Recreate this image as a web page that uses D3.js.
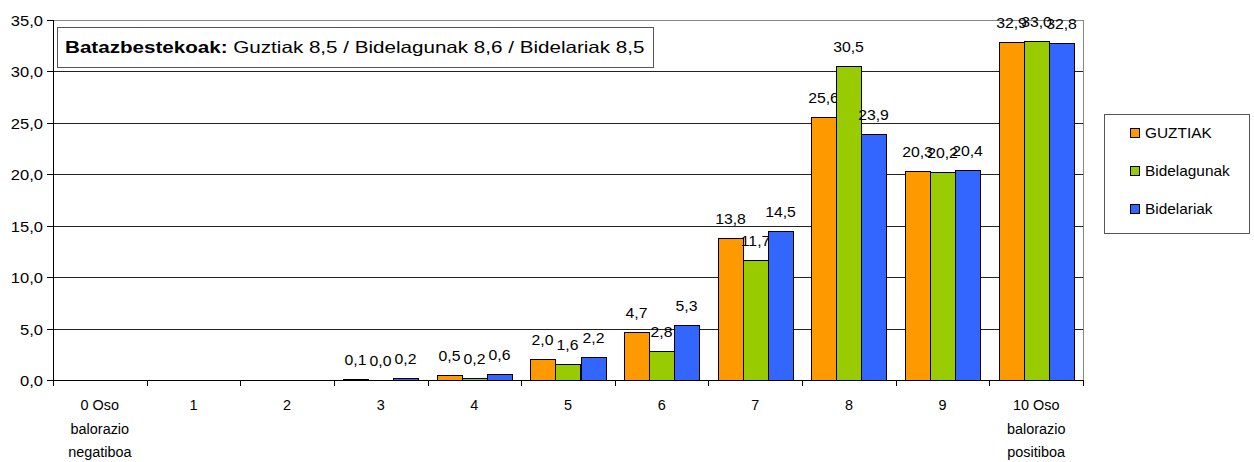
<!DOCTYPE html>
<head>
    <style>
        body { margin: 0; background: #fff; }
        svg { display: block; }
        text { font-family: "Liberation Sans", Arial, sans-serif; font-size: 14px; fill: #000; }
    </style>
</head>
<body>
    <script src="https://d3js.org/d3.v7.min.js"></script>
    <script>
        // categories (each label split in lines)
        var categories = [
            ['0 Oso', 'balorazio', 'negatiboa'], ['1'], ['2'], ['3'], ['4'], ['5'],
            ['6'], ['7'], ['8'], ['9'], ['10 Oso', 'balorazio', 'positiboa']
        ];
        var seriesNames = ['GUZTIAK', 'Bidelagunak', 'Bidelariak'];
        var seriesColors = ['#ff9900', '#99cc00', '#3366ff'];
        var guztiak     = [null, null, null, 0.1, 0.5, 2.0, 4.7, 13.8, 25.6, 20.3, 32.9];
        var bidelagunak = [null, null, null, 0.0, 0.2, 1.6, 2.8, 11.7, 30.5, 20.2, 33.0];
        var bidelariak  = [null, null, null, 0.2, 0.6, 2.2, 5.3, 14.5, 23.9, 20.4, 32.8];
        var yTicks = [0, 5, 10, 15, 20, 25, 30, 35];
        var titleBold = 'Batazbestekoak:';
        var titleRest = ' Guztiak 8,5 / Bidelagunak 8,6 / Bidelariak 8,5';

        var series = [guztiak, bidelagunak, bidelariak];
        var fmt = d => d.toFixed(1).replace('.', ',');

        var svg = d3.select('body').append('svg')
                    .attr('width', 1254).attr('height', 462);

        var pLeft = 53, pRight = 1083, pTop = 20, pBottom = 380;
        var x = d3.scaleBand().domain(d3.range(categories.length)).range([pLeft, pRight]);
        var xs = d3.scaleBand().domain(d3.range(series.length))
                   .range([0, x.bandwidth()]).paddingOuter(0.37);
        var y = d3.scaleLinear().domain([0, 35]).range([pBottom, pTop]);

        // text is drawn a bit stretched horizontally, like the original
        function txt(g, px, py, s, sx) {
            return g.append('text')
                    .attr('transform', 'translate(' + px + ',' + py + ') scale(' + sx + ',1)')
                    .text(s);
        }

        // gridlines
        svg.selectAll('line.grid').data(yTicks.filter(d => d > 0 && d < 35)).enter()
           .append('line')
           .attr('x1', pLeft).attr('x2', pRight)
           .attr('y1', d => Math.round(y(d)) + 0.5).attr('y2', d => Math.round(y(d)) + 0.5)
           .attr('stroke', '#222');

        // plot border
        svg.append('rect')
           .attr('x', pLeft + 0.5).attr('y', pTop + 0.5)
           .attr('width', pRight - pLeft).attr('height', pBottom - pTop)
           .attr('fill', 'none').attr('stroke', '#888');

        // bars + labels
        series.forEach(function(vals, si) {
            var g = svg.append('g');
            vals.forEach(function(v, ci) {
                if (v === null) return;
                var bx = Math.round(x(ci) + xs(si));
                if (v > 0) {
                    g.append('rect')
                     .attr('x', bx + 0.5).attr('y', Math.round(y(v)) + 0.5)
                     .attr('width', Math.round(xs.bandwidth()))
                     .attr('height', Math.round(y(0)) - Math.round(y(v)))
                     .attr('fill', seriesColors[si]).attr('stroke', '#000');
                }
                txt(g, bx + xs.bandwidth() / 2, y(v) - 14, fmt(v), 1.13)
                   .attr('text-anchor', 'middle');
            });
        });

        // axes
        svg.append('line').attr('x1', pLeft + 0.5).attr('x2', pLeft + 0.5)
           .attr('y1', pTop).attr('y2', pBottom + 1).attr('stroke', '#000');
        svg.append('line').attr('x1', pLeft).attr('x2', pRight + 1)
           .attr('y1', pBottom + 0.5).attr('y2', pBottom + 0.5).attr('stroke', '#000');

        yTicks.forEach(function(t) {
            var ty = Math.round(y(t)) + 0.5;
            svg.append('line').attr('x1', pLeft - 6).attr('x2', pLeft)
               .attr('y1', ty).attr('y2', ty).attr('stroke', '#000');
            txt(svg, pLeft - 10, ty + 5, fmt(t), 1.18).attr('text-anchor', 'end');
        });

        d3.range(categories.length + 1).forEach(function(i) {
            var px = Math.round(pLeft + i * x.step()) + 0.5;
            svg.append('line').attr('x1', px).attr('x2', px)
               .attr('y1', pBottom).attr('y2', pBottom + 6).attr('stroke', '#000');
        });
        categories.forEach(function(lines, ci) {
            lines.forEach(function(l, li) {
                txt(svg, x(ci) + x.bandwidth() / 2, 410 + li * 23.5, l, 1.03)
                   .attr('text-anchor', 'middle');
            });
        });

        // title box
        svg.append('rect').attr('x', 57.5).attr('y', 27.5)
           .attr('width', 596).attr('height', 40)
           .attr('fill', '#fff').attr('stroke', '#555');
        var tt = txt(svg, 65, 53, '', 1.25).style('font-size', '16.5px');
        tt.append('tspan').attr('font-weight', 'bold').text(titleBold);
        tt.append('tspan').text(titleRest);

        // legend
        svg.append('rect').attr('x', 1104.5).attr('y', 114.5)
           .attr('width', 145).attr('height', 119)
           .attr('fill', '#fff').attr('stroke', '#555');
        seriesNames.forEach(function(n, i) {
            var cy = 133 + i * 38;
            svg.append('rect').attr('x', 1130.5).attr('y', cy - 4.5)
               .attr('width', 9).attr('height', 9)
               .attr('fill', seriesColors[i]).attr('stroke', '#000');
            txt(svg, 1145, cy + 5, n, 1.1);
        });
    </script>
</body>
